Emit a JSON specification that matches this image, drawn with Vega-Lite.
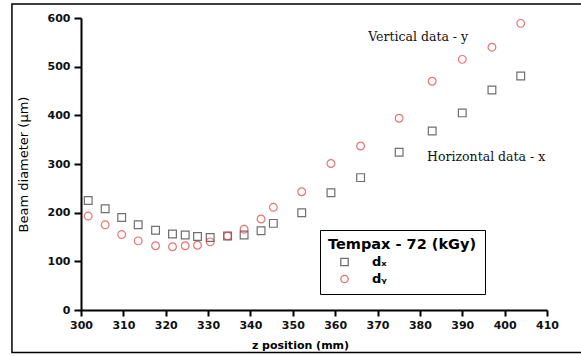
{
  "$schema": "https://vega.github.io/schema/vega-lite/v6.json",
  "width": 466,
  "height": 292,
  "autosize": {"type": "none"},
  "padding": {"left": 81, "top": 18, "right": 34, "bottom": 46},
  "background": "white",
  "config": {"view": {"stroke": null}},
  "datasets": {
    "points": [
      {"z": 301.7, "d": 225, "series": "dₓ"},
      {"z": 305.7, "d": 208, "series": "dₓ"},
      {"z": 309.6, "d": 190, "series": "dₓ"},
      {"z": 313.5, "d": 175, "series": "dₓ"},
      {"z": 317.6, "d": 164, "series": "dₓ"},
      {"z": 321.6, "d": 156, "series": "dₓ"},
      {"z": 324.6, "d": 154, "series": "dₓ"},
      {"z": 327.5, "d": 151, "series": "dₓ"},
      {"z": 330.5, "d": 149, "series": "dₓ"},
      {"z": 334.6, "d": 152, "series": "dₓ"},
      {"z": 338.5, "d": 154, "series": "dₓ"},
      {"z": 342.5, "d": 163, "series": "dₓ"},
      {"z": 345.4, "d": 178, "series": "dₓ"},
      {"z": 352.1, "d": 200, "series": "dₓ"},
      {"z": 359.0, "d": 241, "series": "dₓ"},
      {"z": 366.0, "d": 272, "series": "dₓ"},
      {"z": 375.1, "d": 324, "series": "dₓ"},
      {"z": 382.9, "d": 368, "series": "dₓ"},
      {"z": 390.0, "d": 405, "series": "dₓ"},
      {"z": 397.0, "d": 452, "series": "dₓ"},
      {"z": 403.8, "d": 481, "series": "dₓ"},
      {"z": 301.7, "d": 193, "series": "dᵧ"},
      {"z": 305.7, "d": 175, "series": "dᵧ"},
      {"z": 309.6, "d": 155, "series": "dᵧ"},
      {"z": 313.5, "d": 142, "series": "dᵧ"},
      {"z": 317.6, "d": 132, "series": "dᵧ"},
      {"z": 321.6, "d": 130, "series": "dᵧ"},
      {"z": 324.6, "d": 132, "series": "dᵧ"},
      {"z": 327.5, "d": 133, "series": "dᵧ"},
      {"z": 330.5, "d": 140, "series": "dᵧ"},
      {"z": 334.6, "d": 152, "series": "dᵧ"},
      {"z": 338.5, "d": 166, "series": "dᵧ"},
      {"z": 342.5, "d": 187, "series": "dᵧ"},
      {"z": 345.4, "d": 211, "series": "dᵧ"},
      {"z": 352.1, "d": 243, "series": "dᵧ"},
      {"z": 359.0, "d": 301, "series": "dᵧ"},
      {"z": 366.0, "d": 337, "series": "dᵧ"},
      {"z": 375.1, "d": 394, "series": "dᵧ"},
      {"z": 382.9, "d": 470, "series": "dᵧ"},
      {"z": 390.0, "d": 515, "series": "dᵧ"},
      {"z": 397.0, "d": 540, "series": "dᵧ"},
      {"z": 403.8, "d": 589, "series": "dᵧ"}
    ],
    "notes": [
      {"z": 367.8, "d": 561, "text": "Vertical data - y"},
      {"z": 381.7, "d": 314, "text": "Horizontal data - x"}
    ],
    "frame": [
      {"z": 283.7, "z2": 420, "d": -87.3, "d2": 628.8}
    ],
    "xticks": [
      {"z": 300, "kind": "major"}, {"z": 305, "kind": "minor"},
      {"z": 310, "kind": "major"}, {"z": 315, "kind": "minor"},
      {"z": 320, "kind": "major"}, {"z": 325, "kind": "minor"},
      {"z": 330, "kind": "major"}, {"z": 335, "kind": "minor"},
      {"z": 340, "kind": "major"}, {"z": 345, "kind": "minor"},
      {"z": 350, "kind": "major"}, {"z": 355, "kind": "minor"},
      {"z": 360, "kind": "major"}, {"z": 365, "kind": "minor"},
      {"z": 370, "kind": "major"}, {"z": 375, "kind": "minor"},
      {"z": 380, "kind": "major"}, {"z": 385, "kind": "minor"},
      {"z": 390, "kind": "major"}, {"z": 395, "kind": "minor"},
      {"z": 400, "kind": "major"}, {"z": 405, "kind": "minor"},
      {"z": 410, "kind": "major"}
    ],
    "yticks": [
      {"d": 0, "kind": "major"}, {"d": 50, "kind": "minor"},
      {"d": 100, "kind": "major"}, {"d": 150, "kind": "minor"},
      {"d": 200, "kind": "major"}, {"d": 250, "kind": "minor"},
      {"d": 300, "kind": "major"}, {"d": 350, "kind": "minor"},
      {"d": 400, "kind": "major"}, {"d": 450, "kind": "minor"},
      {"d": 500, "kind": "major"}, {"d": 550, "kind": "minor"},
      {"d": 600, "kind": "major"}
    ]
  },
  "encoding": {
    "x": {
      "field": "z",
      "type": "quantitative",
      "scale": {"domain": [300, 410], "nice": false, "zero": false},
      "axis": {
        "orient": "bottom",
        "title": "z position (mm)",
        "values": [300, 310, 320, 330, 340, 350, 360, 370, 380, 390, 400, 410],
        "tickSize": 6,
        "labelFlush": false,
        "labelOverlap": false,
        "grid": false,
        "domainColor": "black",
        "domainWidth": 2,
        "tickColor": "black",
        "tickWidth": 2,
        "labelFont": "DejaVu Sans",
        "labelFontSize": 11,
        "labelFontWeight": "bold",
        "labelColor": "#111111",
        "labelPadding": 3,
        "titleFont": "DejaVu Sans",
        "titleFontSize": 11,
        "titleFontWeight": "bold",
        "titleColor": "black",
        "titleX": 219,
        "titleY": 35,
        "titleBaseline": "middle",
        "titleAlign": "center"
      }
    },
    "y": {
      "field": "d",
      "type": "quantitative",
      "scale": {"domain": [0, 600], "nice": false},
      "axis": {
        "orient": "left",
        "title": "Beam diameter (μm)",
        "values": [0, 100, 200, 300, 400, 500, 600],
        "tickSize": 7,
        "labelOverlap": false,
        "grid": false,
        "domainColor": "black",
        "domainWidth": 2,
        "tickColor": "black",
        "tickWidth": 2,
        "labelFont": "DejaVu Sans",
        "labelFontSize": 11,
        "labelFontWeight": "bold",
        "labelColor": "#111111",
        "labelPadding": 4,
        "titleFont": "DejaVu Sans",
        "titleFontSize": 13,
        "titleFontWeight": "normal",
        "titleColor": "black",
        "titleX": -58,
        "titleY": 146,
        "titleAngle": -90,
        "titleBaseline": "middle",
        "titleAlign": "center"
      }
    }
  },
  "layer": [
    {
      "data": {"name": "frame"},
      "mark": {"type": "rect", "fill": "transparent", "stroke": "black", "strokeWidth": 1.5, "clip": false},
      "encoding": {
        "x2": {"field": "z2"},
        "y2": {"field": "d2"}
      }
    },
    {
      "data": {"name": "xticks"},
      "transform": [{"filter": "datum.kind === 'major'"}],
      "mark": {"type": "rule", "color": "black", "strokeWidth": 2, "clip": false},
      "encoding": {
        "y": {"datum": 0, "type": "quantitative"},
        "y2": {"datum": -12.3}
      }
    },
    {
      "data": {"name": "xticks"},
      "transform": [{"filter": "datum.kind === 'minor'"}],
      "mark": {"type": "rule", "color": "black", "strokeWidth": 2, "clip": false},
      "encoding": {
        "y": {"datum": 0, "type": "quantitative"},
        "y2": {"datum": -7}
      }
    },
    {
      "data": {"name": "yticks"},
      "transform": [{"filter": "datum.kind === 'major'"}],
      "mark": {"type": "rule", "color": "black", "strokeWidth": 2, "clip": false},
      "encoding": {
        "x": {"datum": 300, "type": "quantitative"},
        "x2": {"datum": 298.35}
      }
    },
    {
      "data": {"name": "yticks"},
      "transform": [{"filter": "datum.kind === 'minor'"}],
      "mark": {"type": "rule", "color": "black", "strokeWidth": 2, "clip": false},
      "encoding": {
        "x": {"datum": 300, "type": "quantitative"},
        "x2": {"datum": 299.1}
      }
    },
    {
      "data": {"name": "points"},
      "mark": {"type": "point", "filled": false, "size": 60, "strokeWidth": 1.2},
      "encoding": {
        "shape": {
          "field": "series",
          "type": "nominal",
          "scale": {"domain": ["dₓ", "dᵧ"], "range": ["square", "circle"]},
          "legend": null
        },
        "color": {
          "field": "series",
          "type": "nominal",
          "scale": {"domain": ["dₓ", "dᵧ"], "range": ["#333333", "#e03a3a"]},
          "legend": {
            "title": "Tempax - 72 (kGy)",
            "orient": "none",
            "legendX": 239,
            "legendY": 212,
            "strokeColor": "black",
            "padding": 8,
            "titleFont": "DejaVu Sans",
            "titleFontSize": 14.5,
            "titleFontWeight": "bold",
            "titleColor": "black",
            "titlePadding": 3,
            "labelFont": "DejaVu Sans",
            "labelFontSize": 13,
            "labelFontWeight": "bold",
            "labelColor": "black",
            "symbolSize": 55,
            "symbolStrokeWidth": 1.3,
            "symbolOffset": 10,
            "labelOffset": 21,
            "rowPadding": 3
          }
        }
      }
    },
    {
      "data": {"name": "notes"},
      "mark": {"type": "text", "align": "left", "baseline": "middle", "font": "DejaVu Serif", "fontSize": 12.5, "color": "#111111"},
      "encoding": {
        "text": {"field": "text", "type": "nominal"}
      }
    }
  ]
}
